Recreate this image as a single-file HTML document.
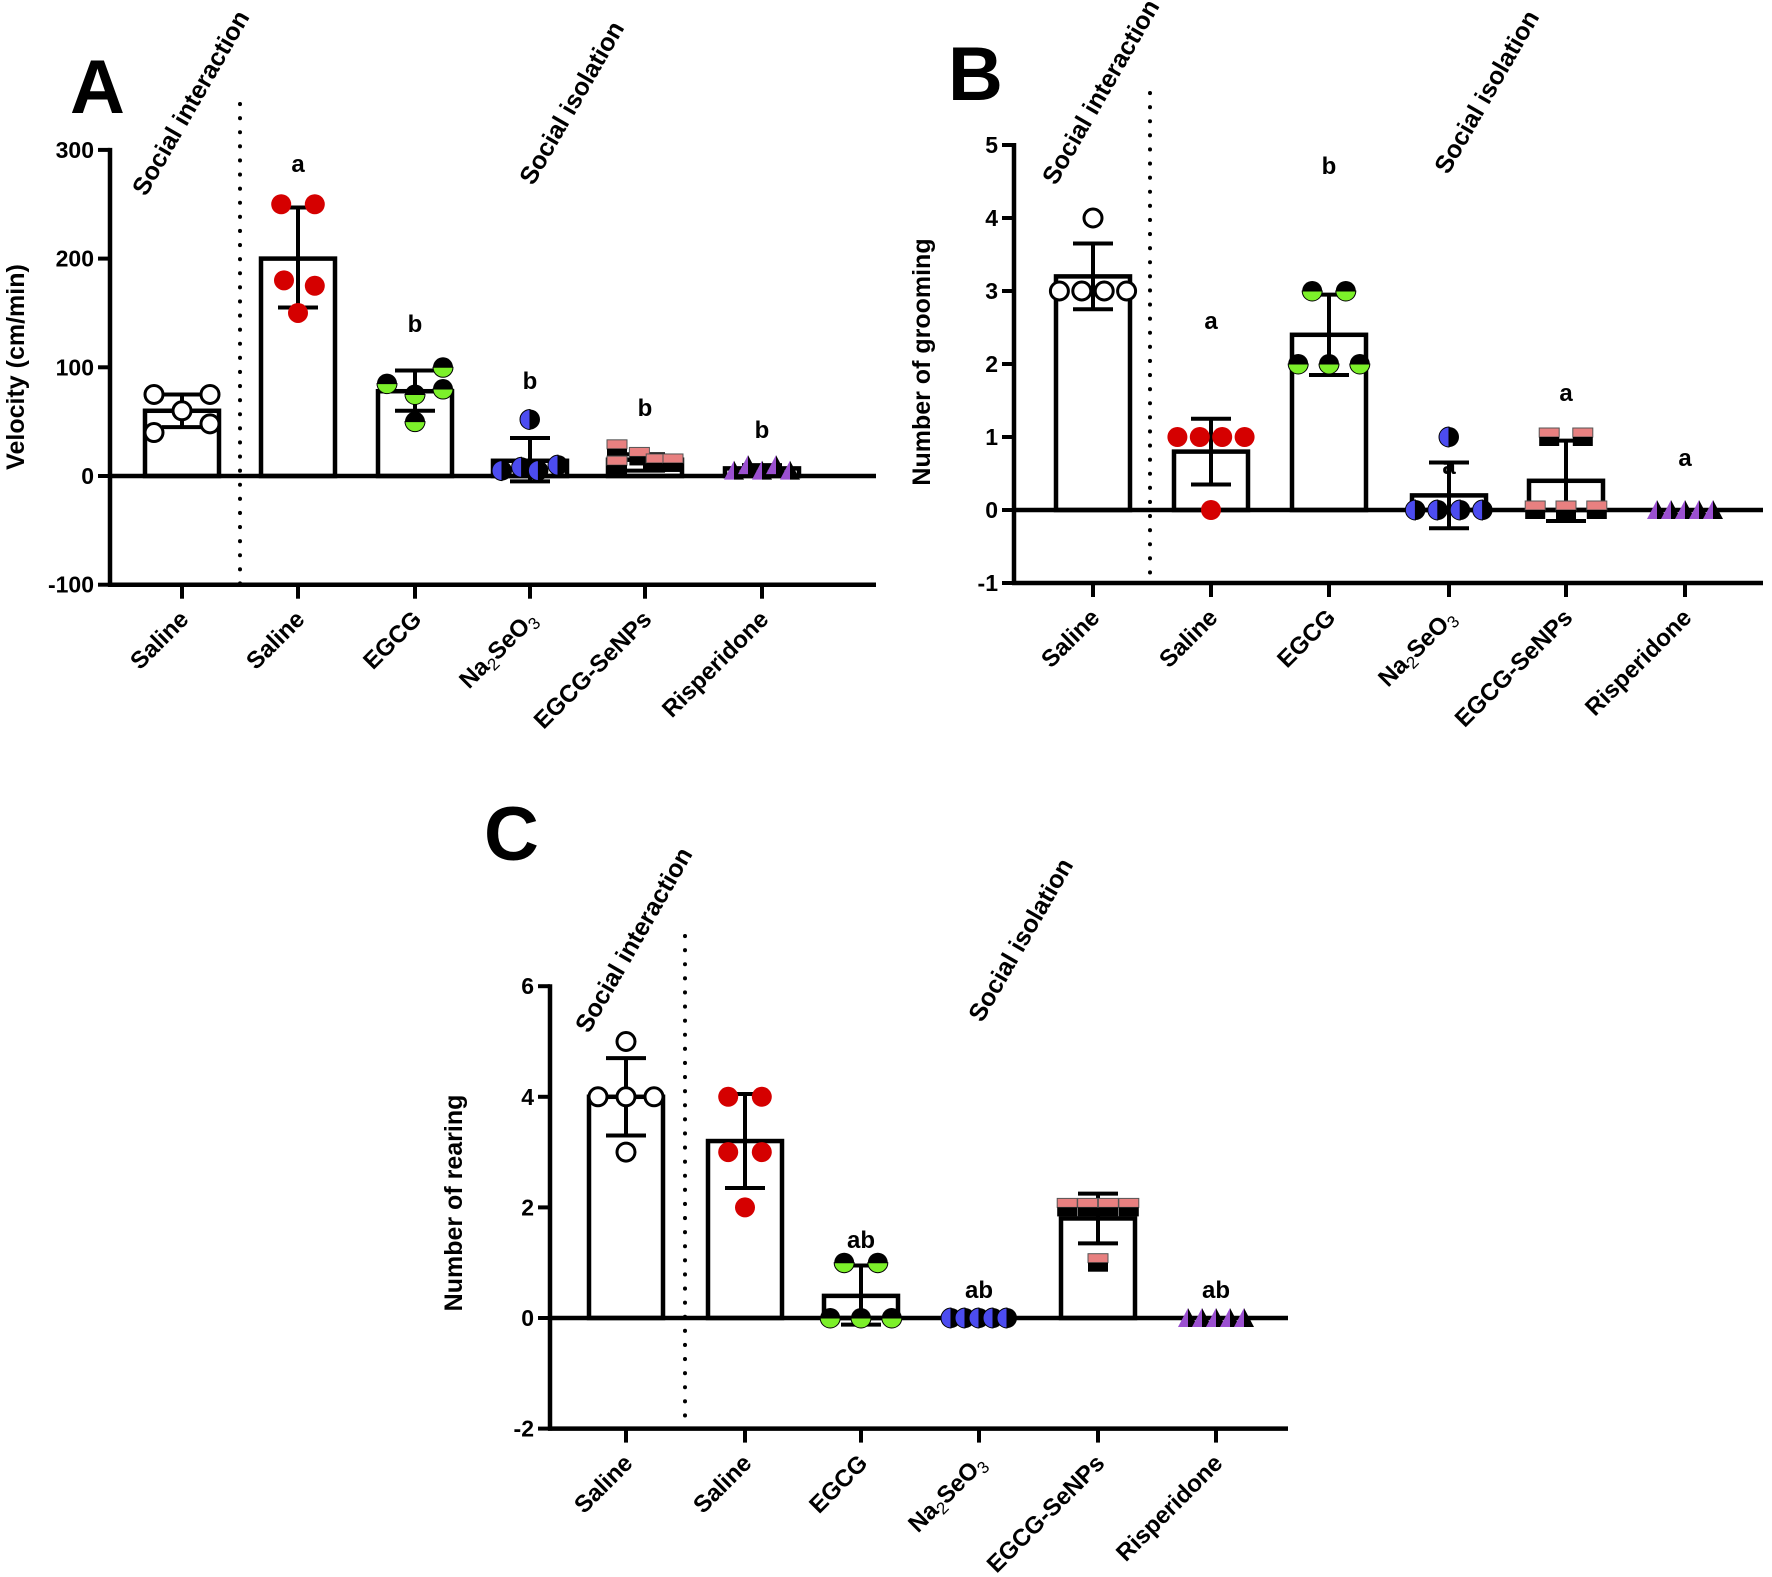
<!DOCTYPE html>
<html><head><meta charset="utf-8">
<style>
html,body{margin:0;padding:0;background:#fff;}
svg{display:block;font-family:"Liberation Sans",Arial,sans-serif;}
</style></head>
<body>
<svg id="s" width="1772" height="1577" viewBox="0 0 1772 1577" xmlns="http://www.w3.org/2000/svg">
<rect width="1772" height="1577" fill="#fff"/>
<text x="70" y="113" font-size="76" font-weight="bold">A</text>
<text x="948" y="100" font-size="76" font-weight="bold">B</text>
<text x="484" y="860" font-size="76" font-weight="bold">C</text>
</svg>
<script>
const S=document.getElementById('s');const NS='http://www.w3.org/2000/svg';
function el(t,a,p){const e=document.createElementNS(NS,t);for(const k in a)e.setAttribute(k,a[k]);(p||S).appendChild(e);return e;}
function txt(x,y,s,a){const e=el('text',Object.assign({x:x,y:y,'font-size':23,'font-weight':'bold'},a||{}));e.innerHTML=s;return e;}
const labels=['Saline','Saline','EGCG','Na<tspan font-size="17" font-weight="normal" dy="5">2</tspan><tspan dy="-5">SeO</tspan><tspan font-size="17" font-weight="normal" dy="5">3</tspan>','EGCG-SeNPs','Risperidone'];
function marker(kind,x,y){const r=10;
 if(kind==0){el('circle',{cx:x,cy:y,r:r-1,fill:'#fff',stroke:'#000','stroke-width':3});}
 else if(kind==1){el('circle',{cx:x,cy:y,r:r,fill:'#d50000'});}
 else if(kind==2){el('path',{d:`M${x-r},${y}A${r},${r} 0 0 1 ${x+r},${y}Z`,fill:'#000'});el('path',{d:`M${x-r},${y}A${r},${r} 0 0 0 ${x+r},${y}Z`,fill:'#7CF02A',stroke:'#000','stroke-width':1});}
 else if(kind==3){el('path',{d:`M${x},${y-r}A${r},${r} 0 0 0 ${x},${y+r}Z`,fill:'#4c4cf0',stroke:'#000','stroke-width':1});el('path',{d:`M${x},${y-r}A${r},${r} 0 0 1 ${x},${y+r}Z`,fill:'#000'});}
 else if(kind==4){el('rect',{x:x-10,y:y-9,width:20,height:9,fill:'#e88080',stroke:'#555','stroke-width':1});el('rect',{x:x-10,y:y,width:20,height:9,fill:'#000'});}
 else if(kind==5){el('path',{d:`M${x-10},${y+9}L${x},${y-10}L${x},${y+9}Z`,fill:'#9b50d0'});el('path',{d:`M${x},${y-10}L${x+10},${y+9}L${x},${y+9}Z`,fill:'#000'});}
}
function panel(P){
 const Y=v=>P.y0-v*P.u;
 const yb=Y(P.min), yt=Y(P.max);
 el('line',{x1:P.dot,y1:P.dotTop,x2:P.dot,y2:yb,stroke:'#000','stroke-width':4,'stroke-dasharray':'0.1,14','stroke-linecap':'round'});
 P.ticks.forEach((tx,i)=>{
  const m=P.bars[i];
  if(m!==0) el('rect',{x:tx-37,y:Math.min(Y(m),P.y0),width:74,height:Math.abs(P.y0-Y(m)),fill:'#fff',stroke:'#000','stroke-width':4.5});
 });
 P.ticks.forEach((tx,i)=>{const e=P.err[i];if(!e)return;
  el('line',{x1:tx,y1:Y(e[0]),x2:tx,y2:Y(e[1]),stroke:'#000','stroke-width':4});
  el('line',{x1:tx-20,y1:Y(e[0]),x2:tx+20,y2:Y(e[0]),stroke:'#000','stroke-width':4});
  el('line',{x1:tx-20,y1:Y(e[1]),x2:tx+20,y2:Y(e[1]),stroke:'#000','stroke-width':4});
 });
 el('line',{x1:P.ax-2,y1:P.y0,x2:P.xend,y2:P.y0,stroke:'#000','stroke-width':4.5});
 el('line',{x1:P.ax,y1:yt-2,x2:P.ax,y2:yb+2,stroke:'#000','stroke-width':4.5});
 el('line',{x1:P.ax-2,y1:yb,x2:P.xend,y2:yb,stroke:'#000','stroke-width':4.5});
 P.yt.forEach(v=>{el('line',{x1:P.ax-12,y1:Y(v),x2:P.ax,y2:Y(v),stroke:'#000','stroke-width':4});
  txt(P.ax-16,Y(v)+8,String(v),{'text-anchor':'end'});});
 P.ticks.forEach((tx,i)=>{el('line',{x1:tx,y1:yb,x2:tx,y2:yb+14,stroke:'#000','stroke-width':4});
  txt(0,0,labels[i],{'text-anchor':'end','font-size':24,transform:`translate(${tx+8},${yb+36}) rotate(-45)`});});
 P.pts.forEach((arr,i)=>arr.forEach(p=>marker(i==0?0:i,P.ticks[i]+p[0]*28,Y(p[1]))));
 P.let.forEach(l=>txt(P.ticks[l[0]],l[1],l[2],{'text-anchor':'middle','font-size':24}));
 txt(0,0,P.ylab,{'text-anchor':'middle','font-size':25,transform:`translate(${P.yl[0]},${P.yl[1]}) rotate(-90)`});
 txt(0,0,'Social interaction',{'text-anchor':'middle','font-size':25,transform:`translate(${P.si[0]},${P.si[1]}) rotate(-60)`});
 txt(0,0,'Social isolation',{'text-anchor':'middle','font-size':25,transform:`translate(${P.is[0]},${P.is[1]}) rotate(-60)`});
}
panel({ax:110,y0:476,u:1.087,min:-100,max:300,xend:876,yt:[300,200,100,0,-100],
 ticks:[182,298,415,530,645,762],dot:240,dotTop:104,
 bars:[60,200,78,14,15,7],
 err:[[45,75],[155,247],[60,97],[-5,35],[5,20],[3,10]],
 pts:[[[-1,75],[1,75],[0,60],[-1,40],[1,48]],[[-0.6,250],[0.6,250],[-0.5,180],[0.6,175],[0,150]],
  [[-1,85],[1,100],[0,75],[1,80],[0,50]],[[0,52],[-1,5],[-0.3,8],[0.3,5],[1,10]],
  [[-1,25],[-1,10],[-0.2,18],[0.4,12],[1,12]],[[-1,5],[-0.5,10],[0,5],[0.5,10],[1,5]]],
 let:[[1,172,'a'],[2,332,'b'],[3,389,'b'],[4,416,'b'],[5,438,'b']],
 ylab:'Velocity (cm/min)',yl:[24,367],si:[198,107],is:[579,107]});
panel({ax:1014,y0:510,u:73,min:-1,max:5,xend:1763,yt:[5,4,3,2,1,0,-1],
 ticks:[1093,1211,1329,1449,1566,1685],dot:1150,dotTop:93,
 bars:[3.2,0.8,2.4,0.2,0.4,0],
 err:[[2.75,3.65],[0.35,1.25],[1.85,2.95],[-0.25,0.65],[-0.15,0.95],null],
 pts:[[[0,4],[-1.2,3],[-0.4,3],[0.4,3],[1.2,3]],[[-1.2,1],[-0.4,1],[0.4,1],[1.2,1],[0,0]],
  [[-0.6,3],[0.6,3],[-1.1,2],[0,2],[1.1,2]],[[0,1],[-1.2,0],[-0.4,0],[0.4,0],[1.2,0]],
  [[-0.6,1],[0.6,1],[-1.1,0],[0,0],[1.1,0]],[[-1,0],[-0.5,0],[0,0],[0.5,0],[1,0]]],
 let:[[2,174,'b'],[1,329,'a'],[3,474,'a'],[4,401,'a'],[5,466,'a']],
 ylab:'Number of grooming',yl:[930,362],si:[1108,96],is:[1494,96]});
panel({ax:550,y0:1318,u:55.3,min:-2,max:6,xend:1288,yt:[6,4,2,0,-2],
 ticks:[626,745,861,979,1098,1216],dot:685,dotTop:936,
 bars:[4,3.2,0.4,0,1.8,0],
 err:[[3.3,4.7],[2.35,4.05],[-0.12,0.95],null,[1.35,2.25],null],
 pts:[[[0,5],[-1,4],[0,4],[1,4],[0,3]],[[-0.6,4],[0.6,4],[-0.6,3],[0.6,3],[0,2]],
  [[-0.6,1],[0.6,1],[-1.1,0],[0,0],[1.1,0]],[[-1,0],[-0.5,0],[0,0],[0.5,0],[1,0]],
  [[-1.1,2],[-0.37,2],[0.37,2],[1.1,2],[0,1]],[[-1,0],[-0.5,0],[0,0],[0.5,0],[1,0]]],
 let:[[2,1248,'ab'],[3,1298,'ab'],[5,1298,'ab']],
 ylab:'Number of rearing',yl:[462,1203],si:[641,944],is:[1028,944]});
</script>
</body></html>
